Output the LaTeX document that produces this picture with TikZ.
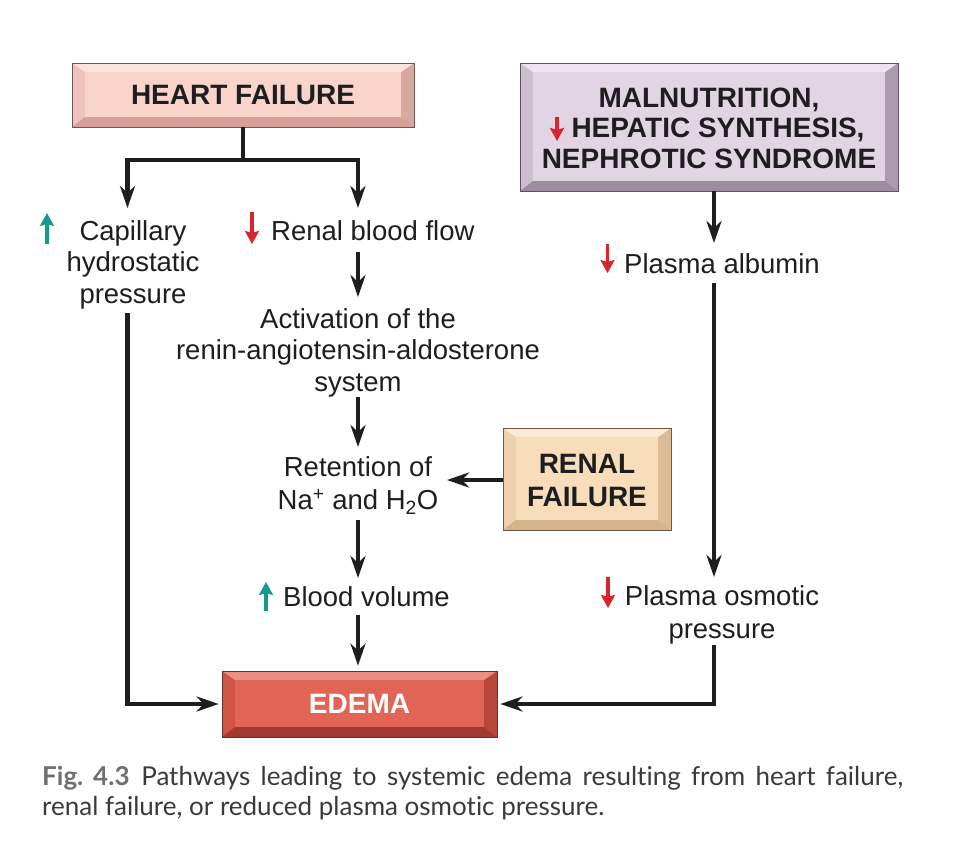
\documentclass[tikz,border=0pt]{standalone}
\usepackage{fontspec}
\setmainfont{Liberation Sans}
\newfontfamily\capfont[Ligatures=NoCommon]{Lato}
\usetikzlibrary{arrows.meta}
\definecolor{ink}{HTML}{1E1E1E}
\definecolor{upgreen}{HTML}{14998A}
\definecolor{dnred}{HTML}{D9232D}
\definecolor{hfface}{HTML}{F9D4CB}\definecolor{hftop}{HTML}{FBE4DE}\definecolor{hfbot}{HTML}{D5A199}
\definecolor{hfleft}{HTML}{EEC3BB}\definecolor{hfright}{HTML}{D9A8A0}\definecolor{hfborder}{HTML}{6E5652}
\definecolor{mface}{HTML}{E1D5E3}\definecolor{mtop}{HTML}{ECE3EE}\definecolor{mbot}{HTML}{9E8BA2}
\definecolor{mleft}{HTML}{CDBFD0}\definecolor{mright}{HTML}{AC9BAF}\definecolor{mborder}{HTML}{5E5260}
\definecolor{rface}{HTML}{F8DDBB}\definecolor{rtop}{HTML}{FCEBD4}\definecolor{rbot}{HTML}{D6B38C}
\definecolor{rleft}{HTML}{EFD2AC}\definecolor{rright}{HTML}{DDBC95}\definecolor{rborder}{HTML}{6C5A45}
\definecolor{eface}{HTML}{E06557}\definecolor{etop}{HTML}{EA9083}\definecolor{ebot}{HTML}{A33A31}
\definecolor{eleft}{HTML}{D05548}\definecolor{eright}{HTML}{B7473C}\definecolor{eborder}{HTML}{6E2E29}
\definecolor{capink}{HTML}{3A3A3A}\definecolor{figgray}{HTML}{707070}
\newcommand\mystrut{\vrule height 23pt depth 9pt width 0pt}
\tikzset{
  bevel/.style n args={5}{fill=#1, path picture={
    \coordinate (nw) at (path picture bounding box.north west);
    \coordinate (ne) at (path picture bounding box.north east);
    \coordinate (sw) at (path picture bounding box.south west);
    \coordinate (se) at (path picture bounding box.south east);
    \fill[#4] (nw) rectangle (se);
    \fill[#5] (ne) -- (se) -- ([shift={(-13,-10)}]se) -- ([shift={(-13,9)}]ne) -- cycle;
    \fill[#2] (nw) -- (ne) -- ([shift={(-13,9)}]ne) -- ([shift={(13,9)}]nw) -- cycle;
    \fill[#3] (sw) -- (se) -- ([shift={(-13,-10)}]se) -- ([shift={(13,-10)}]sw) -- cycle;
    \fill[#1] ([shift={(13,9)}]nw) rectangle ([shift={(-13,-10)}]se);
  }},
  bevelnode/.style={line width=0.8pt, inner sep=0pt},
  titletxt/.style={inner sep=0pt, align=center, text=ink, font=\fontsize{28}{30.5}\selectfont\bfseries},
  txt/.style={inner sep=0pt, align=center, text=ink, font=\fontsize{27.5}{31.5}\selectfont},
  conn/.style={line width=4.5pt, draw=ink, line join=miter, >={Stealth[length=22pt,width=15pt,inset=7pt]}},
  arr/.style={conn, ->},
  upar/.style={line width=3.6pt, draw=upgreen, -{Stealth[length=13pt,width=14pt,inset=2pt]}},
  dnar/.style={line width=3.6pt, draw=dnred, -{Stealth[length=13pt,width=14pt,inset=2pt]}},
}
\begin{document}
\begin{tikzpicture}[x=1pt,y=-1pt]
\fill[white] (0,0) rectangle (962,852);
\useasboundingbox (0,0) rectangle (962,852);

% boxes
\node[bevelnode, draw=hfborder, bevel={hfface}{hftop}{hfbot}{hfleft}{hfright}, minimum width=342pt, minimum height=64pt] (hf) at (243,95) {};
\node[titletxt] (hft) at (hf.center) {HEART FAILURE};

\node[bevelnode, draw=mborder, bevel={mface}{mtop}{mbot}{mleft}{mright}, minimum width=378pt, minimum height=128pt] (mal) at (709,127) {};
\node[titletxt] (malt) at (709,130.5) {\mystrut MALNUTRITION,\\\hspace*{18pt}HEPATIC SYNTHESIS,\\NEPHROTIC SYNDROME\mystrut};

\node[bevelnode, draw=rborder, bevel={rface}{rtop}{rbot}{rleft}{rright}, minimum width=168pt, minimum height=102pt] (rf) at (587,479) {};
\node[titletxt, font=\fontsize{28}{31}\selectfont\bfseries] (rft) at (587,482.5) {\mystrut RENAL\\FAILURE\mystrut};

\node[bevelnode, draw=eborder, bevel={eface}{etop}{ebot}{eleft}{eright}, minimum width=275pt, minimum height=66pt] (ed) at (359.5,704) {};
\node[titletxt, text=white] (edt) at (ed.center) {EDEMA};

% text nodes
\node[txt] (cap) at (133,264.5) {\mystrut Capillary\\hydrostatic\\pressure\mystrut};
\node[txt, anchor=west] (rbf) at (271,233) {\mystrut Renal blood flow\mystrut};
\node[txt] (act) at (358,352.5) {\mystrut Activation of the\\renin-angiotensin-aldosterone\\system\mystrut};
\node[txt] (ret) at (358,485.75) {\mystrut Retention of\\Na\textsuperscript{+} and H\textsubscript{2}O\mystrut};
\node[txt, anchor=west] (bv) at (283,599) {\mystrut Blood volume\mystrut};
\node[txt, anchor=west] (pa) at (624,266) {\mystrut Plasma albumin\mystrut};
\node[txt] (po) at (722,614.75) {\mystrut Plasma osmotic\\pressure\mystrut};

% small up/down arrows
\draw[upar] (47,244) -- (47,213);
\draw[dnar] (252,212) -- (252,244);
\draw[upar] (266,611) -- (266,582);
\draw[dnar] (607.5,244) -- (607.5,273);
\draw[dnar] (608,577) -- (608,608);
\draw[dnar] (557,117) -- (557,141);

% connectors
\coordinate (j1) at (243,160);
\coordinate (capin) at (127.5,208);
\coordinate (rbfin) at (358,208);
\draw[conn] (hf.south) -- (j1);
\draw[conn,<->] (capin) |- (j1) -| (rbfin);

\coordinate (capout) at (127.5,313);
\draw[arr, shorten >=3pt] (capout) |- (ed.west);

\coordinate (a1s) at (358,252); \coordinate (a1e) at (358,297);
\draw[arr] (a1s) -- (a1e);
\coordinate (a2s) at (358,397); \coordinate (a2e) at (358,447);
\draw[arr] (a2s) -- (a2e);
\coordinate (retin) at (447,480);
\draw[arr] (rf.west |- retin) -- (retin);
\coordinate (a3s) at (358,520); \coordinate (a3e) at (358,578);
\draw[arr] (a3s) -- (a3e);
\coordinate (a4s) at (358,615);
\draw[arr, shorten >=5pt] (a4s) -- (a4s |- ed.north);

\coordinate (pain) at (714,243);
\draw[arr] (mal.south -| pain) -- (pain);
\coordinate (paout) at (714,283); \coordinate (poin) at (714,577);
\draw[arr] (paout) -- (poin);
\coordinate (poout) at (714,645);
\draw[arr, shorten >=3pt] (poout) |- (ed.east);

% caption
\node[anchor=north west, inner sep=0pt, text width=861pt, align=justify, text=capink,
      font=\capfont\fontsize{26}{30.5}\selectfont] (capt) at (42,765)
  {\vrule height 20pt width 0pt\textcolor{figgray}{\bfseries Fig.\ 4.3}\hspace{0.45em}Pathways leading to systemic edema resulting from heart failure,\linebreak renal failure, or reduced plasma osmotic pressure.};
\end{tikzpicture}
\end{document}
